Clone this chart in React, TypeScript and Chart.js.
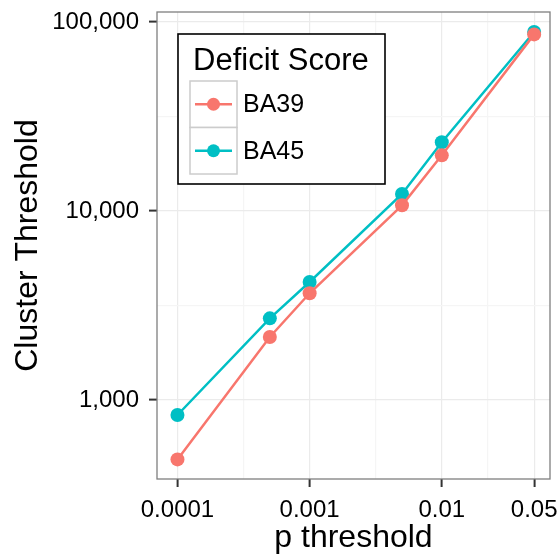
import React, { useEffect, useRef } from "react";
import { Chart, registerables } from "chart.js";

Chart.register(...registerables);

// ---- data ----
const pThresholds = [0.0001, 0.0005, 0.001, 0.005, 0.01, 0.05];
const ba39 = [485, 2154, 3670, 10720, 19700, 86000];
const ba45 = [833, 2705, 4210, 12300, 23100, 88500];
const seriesNames = ["BA39", "BA45"];
const seriesColors = ["#F8766D", "#00BFC4"];

const xMajorTicks = [0.0001, 0.001, 0.01, 0.05];
const xMajorLabels = ["0.0001", "0.001", "0.01", "0.05"];
const xMinorTicks = [Math.pow(10, -3.5), Math.pow(10, -2.5), Math.pow(10, -1.6505)];
const yMajorTicks = [1000, 10000, 100000];
const yMajorLabels = ["1,000", "10,000", "100,000"];
const yMinorTicks = [Math.pow(10, 3.5), Math.pow(10, 4.5)];

const xTitle = "p threshold";
const yTitle = "Cluster Threshold";
const legendTitle = "Deficit Score";

const FONT = "'Liberation Sans', Arial, Helvetica, sans-serif";

const legendPlugin = {
  id: "ggLegend",
  afterDatasetsDraw(chart: any) {
    const { ctx, chartArea } = chart;
    const left = chartArea.left + 21;
    const top = chartArea.top + 22;
    const w = 207;
    const h = 150;
    ctx.save();
    ctx.fillStyle = "#FFFFFF";
    ctx.fillRect(left, top, w, h);
    ctx.lineWidth = 1.6;
    ctx.strokeStyle = "#000000";
    ctx.strokeRect(left, top, w, h);
    ctx.fillStyle = "#000000";
    ctx.font = `31px ${FONT}`;
    ctx.textBaseline = "alphabetic";
    ctx.textAlign = "left";
    ctx.fillText(legendTitle, left + 15, top + 36);
    const keyX = left + 12;
    const keyW = 47;
    const keyH = 46.5;
    seriesNames.forEach((name, i) => {
      const ky = top + 47 + i * keyH;
      ctx.fillStyle = "#FFFFFF";
      ctx.fillRect(keyX, ky, keyW, keyH);
      ctx.lineWidth = 1.5;
      ctx.strokeStyle = "#CCCCCC";
      ctx.strokeRect(keyX, ky, keyW, keyH);
      const cy = ky + keyH / 2;
      ctx.strokeStyle = seriesColors[i];
      ctx.lineWidth = 2.5;
      ctx.beginPath();
      ctx.moveTo(keyX + 5, cy);
      ctx.lineTo(keyX + keyW - 5, cy);
      ctx.stroke();
      ctx.fillStyle = seriesColors[i];
      ctx.beginPath();
      ctx.arc(keyX + keyW / 2, cy, 6.5, 0, Math.PI * 2);
      ctx.fill();
      ctx.fillStyle = "#000000";
      ctx.font = `25px ${FONT}`;
      ctx.textBaseline = "middle";
      ctx.fillText(name, keyX + keyW + 6, cy + 1);
    });
    ctx.restore();
  },
};

const borderPlugin = {
  id: "panelBorder",
  afterDraw(chart: any) {
    const { ctx, chartArea } = chart;
    ctx.save();
    ctx.strokeStyle = "#7F7F7F";
    ctx.lineWidth = 1.3;
    ctx.strokeRect(
      chartArea.left,
      chartArea.top,
      chartArea.right - chartArea.left,
      chartArea.bottom - chartArea.top
    );
    ctx.restore();
  },
};

export default function App() {
  const canvasRef = useRef<HTMLCanvasElement | null>(null);

  useEffect(() => {
    document.body.style.margin = "0";
    const canvas = canvasRef.current;
    if (!canvas) return;
    const xMajorSet = new Set(xMajorTicks);
    const yMajorSet = new Set(yMajorTicks);

    const datasets = [ba39, ba45].map((vals, i) => ({
      label: seriesNames[i],
      data: pThresholds.map((x, j) => ({ x, y: vals[j] })),
      borderColor: seriesColors[i],
      backgroundColor: seriesColors[i],
      pointBackgroundColor: seriesColors[i],
      pointBorderWidth: 0,
      pointRadius: 7,
      borderWidth: 2.5,
      tension: 0,
    }));

    const chart = new Chart(canvas, {
      type: "line",
      data: { datasets },
      plugins: [legendPlugin, borderPlugin],
      options: {
        animation: false,
        responsive: false,
        devicePixelRatio: 1,
        layout: { padding: { top: 12, right: 9, left: 0, bottom: 0 } },
        plugins: { legend: { display: false }, tooltip: { enabled: false } },
        scales: {
          x: {
            type: "logarithmic",
            min: 7.45e-5,
            max: 0.0659,
            afterBuildTicks: (scale: any) => {
              scale.ticks = [...xMajorTicks, ...xMinorTicks]
                .sort((a, b) => a - b)
                .map((v) => ({ value: v }));
            },
            afterFit: (scale: any) => {
              scale.height = 78;
              scale.paddingLeft = 0;
              scale.paddingRight = 0;
            },
            border: { display: false },
            grid: {
              color: (c: any) => (c.tick && xMajorSet.has(c.tick.value) ? "#EBEBEB" : "#F5F5F5"),
              tickColor: (c: any) =>
                c.tick && xMajorSet.has(c.tick.value) ? "#333333" : "rgba(0,0,0,0)",
              lineWidth: 1.2,
              tickWidth: 2,
              tickLength: 8,
            },
            ticks: {
              autoSkip: false,
              maxRotation: 0,
              padding: 9,
              color: "#000000",
              font: { family: FONT, size: 24 },
              callback: (value: any) => {
                const idx = xMajorTicks.indexOf(Number(value));
                return idx >= 0 ? xMajorLabels[idx] : "";
              },
            },
            title: {
              display: true,
              text: xTitle,
              color: "#000000",
              font: { family: FONT, size: 32 },
              padding: { top: 0, bottom: 0 },
            },
          },
          y: {
            type: "logarithmic",
            min: 382,
            max: 112950,
            afterBuildTicks: (scale: any) => {
              scale.ticks = [...yMajorTicks, ...yMinorTicks]
                .sort((a, b) => a - b)
                .map((v) => ({ value: v }));
            },
            afterFit: (scale: any) => {
              scale.width = 157;
              scale.paddingTop = 0;
              scale.paddingBottom = 0;
            },
            border: { display: false },
            grid: {
              color: (c: any) => (c.tick && yMajorSet.has(c.tick.value) ? "#EBEBEB" : "#F5F5F5"),
              tickColor: (c: any) =>
                c.tick && yMajorSet.has(c.tick.value) ? "#333333" : "rgba(0,0,0,0)",
              lineWidth: 1.2,
              tickWidth: 2,
              tickLength: 8,
            },
            ticks: {
              autoSkip: false,
              padding: 10,
              color: "#000000",
              font: { family: FONT, size: 24 },
              callback: (value: any) => {
                const idx = yMajorTicks.indexOf(Number(value));
                return idx >= 0 ? yMajorLabels[idx] : "";
              },
            },
            title: {
              display: true,
              text: yTitle,
              color: "#000000",
              font: { family: FONT, size: 32 },
              padding: { top: 9, bottom: 0 },
            },
          },
        },
      },
    } as any);

    return () => chart.destroy();
  }, []);

  return (
    <div style={{ position: "fixed", left: 0, top: 0, width: 559, height: 557, background: "#FFFFFF" }}>
      <canvas ref={canvasRef} width={559} height={557} style={{ width: 559, height: 557 }} />
    </div>
  );
}
